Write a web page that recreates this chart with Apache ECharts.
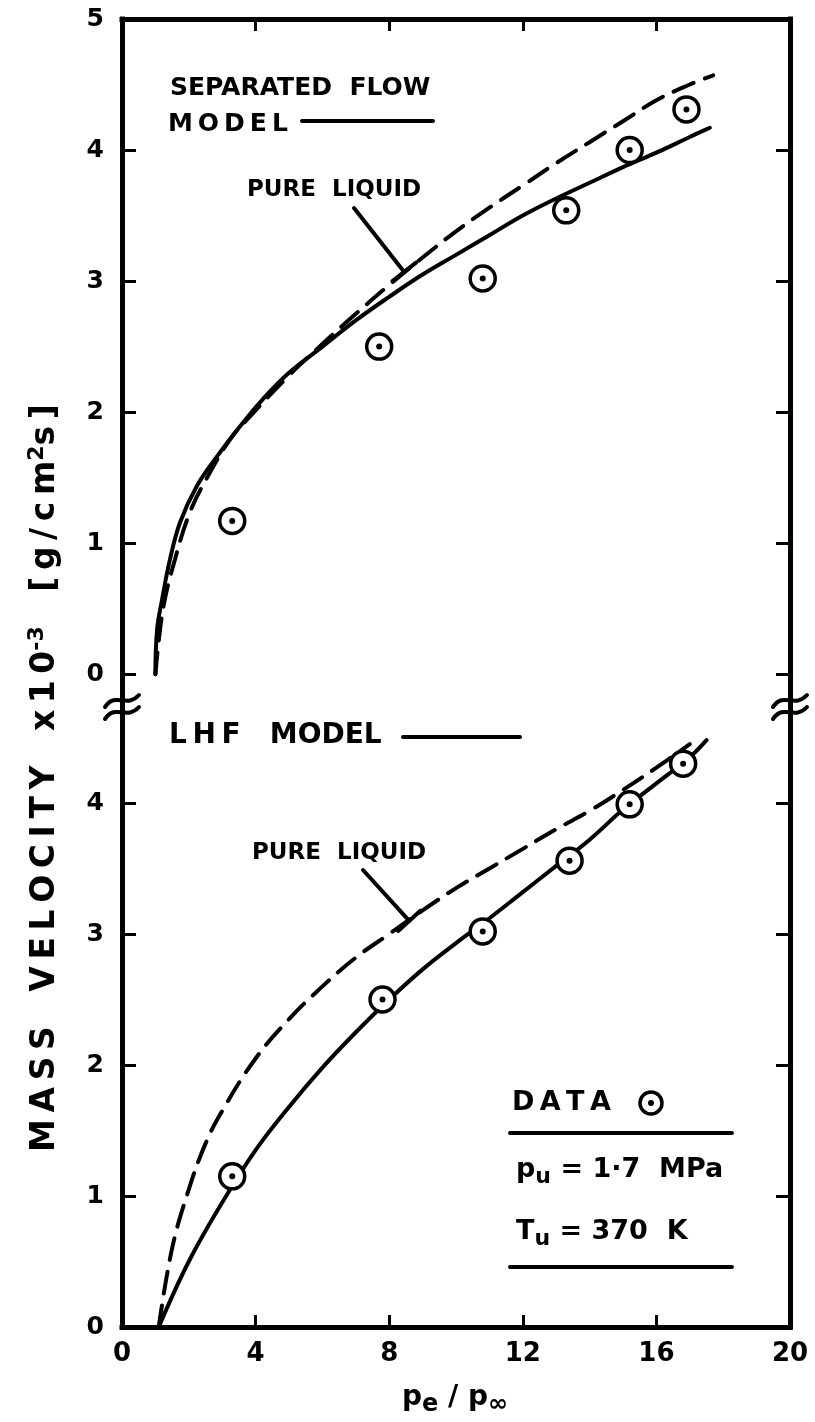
<!DOCTYPE html>
<html>
<head>
<meta charset="utf-8">
<script src="https://cdn.jsdelivr.net/npm/echarts@6/dist/echarts.min.js"></script>
<style>
  html, body { margin: 0; padding: 0; background: #fff; }
  #main { width: 815px; height: 1422px; }
</style>
</head>
<body>
<div id="main"></div>
<script>
// x ticks / labels
const xTicks = [0, 4, 8, 12, 16, 20];
const xInnerTicks = [4, 8, 12, 16];
const topYLabels = [0, 1, 2, 3, 4, 5];
const topYTicks = [0, 1, 2, 3, 4];
const botYLabels = [0, 1, 2, 3, 4];
const botYTicks = [1, 2, 3, 4];

// upper panel: separated flow model
const sepModel = [[1.0, 0], [1.05, 0.34], [1.2, 0.57], [1.44, 0.88], [1.74, 1.16], [2.25, 1.44], [2.84, 1.66],
  [3.53, 1.89], [4.22, 2.1], [5, 2.3], [6, 2.5], [7, 2.7], [8, 2.88], [9, 3.05], [10, 3.2], [11, 3.35],
  [12, 3.5], [13, 3.63], [14, 3.75], [15, 3.87], [16, 3.98], [17, 4.1], [17.6, 4.17]];
const sepLiquid = [[1.0, 0], [1.23, 0.5], [1.59, 0.88], [2.04, 1.24], [2.57, 1.51], [3.23, 1.79], [3.77, 1.95],
  [5, 2.28], [6, 2.52], [7, 2.75], [8, 2.97], [9, 3.18], [10, 3.38], [11, 3.56], [12, 3.73], [13, 3.9],
  [14, 4.06], [15, 4.22], [16, 4.38], [17, 4.5], [17.7, 4.57]];
const sepData = [[3.3, 1.17], [7.7, 2.5], [10.8, 3.02], [13.3, 3.54], [15.2, 4.0], [16.9, 4.31]];

// lower panel: LHF model
const lhfModel = [[1.1, 0], [2, 0.5], [3, 0.95], [4, 1.35], [5, 1.68], [6, 1.98], [7, 2.25], [8, 2.5],
  [9, 2.73], [10, 2.93], [11, 3.12], [12, 3.32], [13, 3.52], [14, 3.72], [15, 3.95], [16, 4.15],
  [17, 4.35], [17.5, 4.48]];
const lhfLiquid = [[1.1, 0], [1.5, 0.6], [2, 1.05], [2.5, 1.4], [3, 1.65], [4, 2.05], [5, 2.35], [6, 2.6],
  [7, 2.82], [8, 3.0], [9, 3.18], [10, 3.35], [11, 3.5], [12, 3.65], [13, 3.8], [14, 3.94], [15, 4.1],
  [16, 4.27], [17, 4.45]];
const lhfData = [[3.3, 1.15], [7.8, 2.5], [10.8, 3.02], [13.4, 3.56], [15.2, 3.99], [16.8, 4.3]];

const FONT = 'DejaVu Sans';
const sp = s => s.split('').join('\u2009');

const chart = echarts.init(document.getElementById('main'));

function xAx(grid, pos, labels) {
  return {
    type: 'value', gridIndex: grid, position: pos, min: 0, max: 20, interval: 4,
    axisLine: { show: true, onZero: false, lineStyle: { color: '#000', width: 5, cap: 'square' } },
    axisTick: { show: true, inside: true, length: 12, customValues: xInnerTicks, lineStyle: { color: '#000', width: 3 } },
    axisLabel: { show: labels, margin: 14, color: '#000', fontFamily: FONT, fontWeight: 'bold', fontSize: 26 },
    splitLine: { show: false }
  };
}
function yAx(grid, pos, min, max, labels, ticks) {
  return {
    type: 'value', gridIndex: grid, position: pos, min: min, max: max,
    axisLine: { show: true, onZero: false, lineStyle: { color: '#000', width: 5, cap: 'square' } },
    axisTick: { show: true, inside: true, length: 14, customValues: ticks, lineStyle: { color: '#000', width: 3 } },
    axisLabel: { show: !!labels, customValues: labels || [], margin: 18, color: '#000', fontFamily: FONT, fontWeight: 'bold', fontSize: 25 },
    splitLine: { show: false }
  };
}
function curve(xi, yi, data, dashed) {
  return {
    type: 'line', xAxisIndex: xi, yAxisIndex: yi, data: data, smooth: 0.4, showSymbol: false,
    lineStyle: { color: '#000', width: 4, type: dashed ? [22, 12] : 'solid', cap: 'round' }, z: 2
  };
}
function rings(xi, yi, data) {
  return [{
    type: 'scatter', xAxisIndex: xi, yAxisIndex: yi, data: data, symbol: 'circle', symbolSize: 25,
    itemStyle: { color: '#fff', borderColor: '#000', borderWidth: 3.5, opacity: 1 }, z: 3
  }, {
    type: 'scatter', xAxisIndex: xi, yAxisIndex: yi, data: data, symbol: 'circle', symbolSize: 6,
    itemStyle: { color: '#000', opacity: 1 }, z: 4
  }];
}

chart.setOption({
  backgroundColor: '#fff',
  animation: false,
  grid: [
    { left: 122, right: 25, top: 19, height: 688 },
    { left: 122, right: 25, top: 707, height: 620 }
  ],
  xAxis: [xAx(0, 'top', false), xAx(1, 'bottom', true)],
  yAxis: [
    yAx(0, 'left', -0.25, 5, topYLabels, topYTicks),
    yAx(0, 'right', -0.25, 5, null, topYTicks),
    yAx(1, 'left', 0, 620 / 131, botYLabels, botYTicks),
    yAx(1, 'right', 0, 620 / 131, null, botYTicks)
  ],
  series: [
    curve(0, 0, sepModel, false),
    curve(0, 0, sepLiquid, true),
    ...rings(0, 0, sepData),
    curve(1, 2, lhfModel, false),
    curve(1, 2, lhfLiquid, true),
    ...rings(1, 2, lhfData)
  ]
});

// annotations
const topTip = chart.convertToPixel({ xAxisIndex: 0, yAxisIndex: 0 }, [8.45, 3.07]);
const botTip = chart.convertToPixel({ xAxisIndex: 1, yAxisIndex: 2 }, [8.6, 3.1]);

function leader(x0, y0, tip) {
  const dx = tip[0] - x0, dy = tip[1] - y0, len = Math.hypot(dx, dy);
  const px = dy / len * 15, py = -dx / len * 15;
  const st = { stroke: '#000', lineWidth: 4, lineCap: 'round' };
  return [
    { type: 'line', shape: { x1: x0, y1: y0, x2: tip[0], y2: tip[1] }, style: st },
    { type: 'line', shape: { x1: tip[0] - px, y1: tip[1] - py, x2: tip[0] + px, y2: tip[1] + py }, style: st }
  ];
}
function brk(cx, cy) {
  const st = { stroke: '#000', lineWidth: 4, lineCap: 'round', fill: null };
  return [-6, 6].map(o => ({
    type: 'bezierCurve',
    shape: { x1: cx - 17, y1: cy + o + 6, cpx1: cx - 6, cpy1: cy + o - 10, cpx2: cx + 4, cpy2: cy + o + 8, x2: cx + 17, y2: cy + o - 6 },
    style: st, z: 10
  }));
}
const txt = (x, y, text, size) => ({
  type: 'text', x: x, y: y,
  style: { text: text, fill: '#000', font: 'bold ' + size + 'px "' + FONT + '"', verticalAlign: 'middle' }
});
const hline = (x1, x2, y) => ({ type: 'line', shape: { x1: x1, y1: y, x2: x2, y2: y }, style: { stroke: '#000', lineWidth: 4, lineCap: 'round' } });
const subRich = size => ({ s: { fontSize: size, fontWeight: 'bold', fontFamily: FONT, verticalAlign: 'bottom', padding: [14, 0, 0, 0] } });

chart.setOption({
  graphic: [
    txt(170, 88, 'SEPARATED  FLOW', 25),
    txt(168, 124, sp('MODEL'), 25),
    hline(302, 433, 121),
    txt(247, 190, 'PURE  LIQUID', 23),
    ...leader(354, 208, topTip),
    txt(169, 736, sp('LHF') + '   MODEL', 28),
    hline(403, 520, 737),
    txt(252, 853, 'PURE  LIQUID', 23),
    ...leader(363, 870, botTip),
    ...brk(122, 707),
    ...brk(790, 707),
    // data legend box
    txt(512, 1103, sp('DATA'), 27),
    { type: 'circle', shape: { cx: 651, cy: 1103, r: 11 }, style: { fill: '#fff', stroke: '#000', lineWidth: 3.5 } },
    { type: 'circle', shape: { cx: 651, cy: 1103, r: 3 }, style: { fill: '#000' } },
    hline(510, 732, 1133),
    {
      type: 'text', x: 516, y: 1170,
      style: {
        text: 'p{s|u} = 1·7  MPa', fill: '#000', verticalAlign: 'middle',
        font: 'bold 27px "' + FONT + '"', rich: subRich(22)
      }
    },
    {
      type: 'text', x: 516, y: 1232,
      style: {
        text: 'T{s|u} = 370  K', fill: '#000', verticalAlign: 'middle',
        font: 'bold 27px "' + FONT + '"', rich: subRich(22)
      }
    },
    hline(510, 732, 1267),
    // x axis name
    {
      type: 'text', x: 455, y: 1398,
      style: {
        text: 'p{s|e} / p{s|∞}', fill: '#000', align: 'center', verticalAlign: 'middle',
        font: 'bold 28px "' + FONT + '"', rich: subRich(24)
      }
    },
    // y axis name
    {
      type: 'text', x: 45, y: 778, rotation: Math.PI / 2,
      style: {
        text: sp('MASS') + '   ' + sp('VELOCITY') + '   x\u2009' + sp('10') + '{p|-3}   ' + sp('[g/cm') + '{p|2}' + sp('s]'),
        fill: '#000', align: 'center', verticalAlign: 'middle',
        font: 'bold 33px "' + FONT + '"',
        rich: { p: { fontSize: 22, fontWeight: 'bold', fontFamily: FONT, verticalAlign: 'top', padding: [0, 0, 16, 0] } }
      }
    }
  ]
});
</script>
</body>
</html>
